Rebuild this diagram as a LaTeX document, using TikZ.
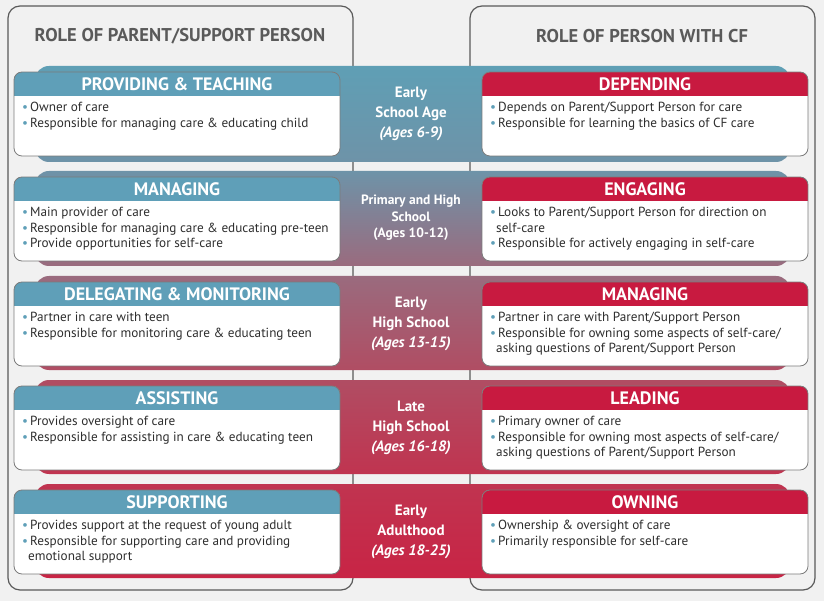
\documentclass[tikz,border=0pt]{standalone}
\usepackage{fontspec}
\setmainfont{PT Sans}
\usetikzlibrary{positioning,calc}
\definecolor{bg}{HTML}{F1F1F1}
\definecolor{teal}{HTML}{5F9FB8}
\definecolor{crim}{HTML}{C81A40}
\definecolor{panel}{HTML}{5A5A5A}
\definecolor{txt}{HTML}{2E2E2E}
\definecolor{bA}{HTML}{5F9FB5}\definecolor{bB}{HTML}{6E93A8}
\definecolor{bD}{HTML}{9A6B7E}\definecolor{bF}{HTML}{B04D63}
\definecolor{bH}{HTML}{C03450}\definecolor{bJ}{HTML}{C82445}
\tikzset{
 panelbox/.style={draw=panel,line width=1.2pt,fill=bg,rounded corners=12pt},
 band/.style={rounded corners=14pt},
 card/.style={draw=panel!80,line width=0.8pt,rounded corners=8pt},
 head/.style={font=\bfseries\fontsize{18}{19}\selectfont,text=white},
 body/.style={font=\fontsize{13.2}{15.5}\selectfont,text=txt,align=left,anchor=north west,inner sep=0pt},
 mid/.style={font=\bfseries\fontsize{15}{20}\selectfont,text=white,align=center},
 ptitle/.style={font=\bfseries\fontsize{18.5}{19}\selectfont,text=panel}
}
\newcommand{\bul}[1]{{\color{#1}\textbullet}\hspace{2pt}}
\newcommand{\card}[6]{% name, x, y, color, title, body
 \begin{scope}
 \clip[rounded corners=8pt] (#2,#3) rectangle ++(326,84);
 \fill[white] (#2,#3) rectangle ++(326,84);
 \fill[#4] (#2,#3) rectangle ++(326,24);
 \end{scope}
 \draw[card] (#2,#3) rectangle ++(326,84);
 \node[head] (#1t) at ($(#2,#3)+(163,12)$) {#5};
 \node[body] (#1b) at ($(#2,#3)+(8,30)$) {#6};
}
\begin{document}
\begin{tikzpicture}[x=1pt,y=-1pt]
\useasboundingbox (0,0) rectangle (824,601);
\fill[bg] (0,0) rectangle (824,601);
\draw[panelbox] (8,6) rectangle (353,590);
\draw[panelbox] (470,6) rectangle (815,590);
\node[ptitle] (lt) at (180,36) {ROLE OF PARENT/SUPPORT PERSON};
\node[ptitle] (rt) at (642,36) {ROLE OF PERSON WITH CF};
\shade[band,top color=bA,bottom color=bB] (35,66) rectangle (790,162);
\shade[band,top color=bB,bottom color=bD] (35,171) rectangle (790,266);
\shade[band,top color=bD,bottom color=bF] (35,276) rectangle (790,370);
\shade[band,top color=bF,bottom color=bH] (35,380) rectangle (790,474);
\shade[band,top color=bH,bottom color=bJ] (35,484) rectangle (790,578);
\card{l1}{14}{72}{teal}{PROVIDING \& TEACHING}{\bul{teal}Owner of care\\\bul{teal}Responsible for managing care \& educating child}
\card{l2}{14}{177}{teal}{MANAGING}{\bul{teal}Main provider of care\\\bul{teal}Responsible for managing care \& educating pre-teen\\\bul{teal}Provide opportunities for self-care}
\card{l3}{14}{282}{teal}{DELEGATING \& MONITORING}{\bul{teal}Partner in care with teen\\\bul{teal}Responsible for monitoring care \& educating teen}
\card{l4}{14}{386}{teal}{ASSISTING}{\bul{teal}Provides oversight of care\\\bul{teal}Responsible for assisting in care \& educating teen}
\card{l5}{14}{490}{teal}{SUPPORTING}{\bul{teal}Provides support at the request of young adult\\\bul{teal}Responsible for supporting care and providing\\\hspace{6pt}emotional support}
\card{r1}{482}{72}{crim}{DEPENDING}{\bul{teal}Depends on Parent/Support Person for care\\\bul{teal}Responsible for learning the basics of CF care}
\card{r2}{482}{177}{crim}{ENGAGING}{\bul{teal}Looks to Parent/Support Person for direction on\\\hspace{6pt}self-care\\\bul{teal}Responsible for actively engaging in self-care}
\card{r3}{482}{282}{crim}{MANAGING}{\bul{teal}Partner in care with Parent/Support Person\\\bul{teal}Responsible for owning some aspects of self-care/\\\hspace{6pt}asking questions of Parent/Support Person}
\card{r4}{482}{386}{crim}{LEADING}{\bul{teal}Primary owner of care\\\bul{teal}Responsible for owning most aspects of self-care/\\\hspace{6pt}asking questions of Parent/Support Person}
\card{r5}{482}{490}{crim}{OWNING}{\bul{teal}Ownership \& oversight of care\\\bul{teal}Primarily responsible for self-care}
\node[mid] (m1) at (411,114) {Early\\School Age\\\textit{(Ages 6-9)}};
\node[mid,font=\bfseries\fontsize{13.5}{16.5}\selectfont] (m2) at (411,218) {Primary and High\\School\\(Ages 10-12)};
\node[mid] (m3) at (411,324) {Early\\High School\\\textit{(Ages 13-15)}};
\node[mid] (m4) at (411,428) {Late\\High School\\\textit{(Ages 16-18)}};
\node[mid] (m5) at (411,532) {Early\\Adulthood\\\textit{(Ages 18-25)}};
\end{tikzpicture}
\end{document}
